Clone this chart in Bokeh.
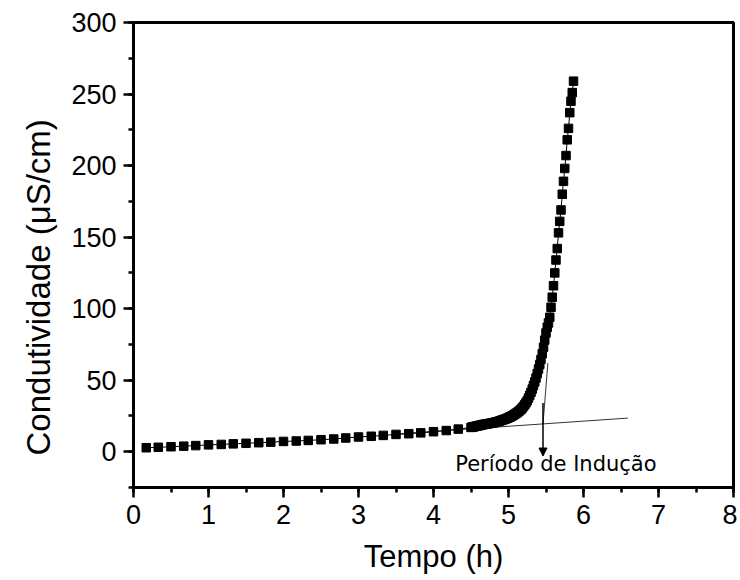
from bokeh.plotting import figure
from bokeh.models import Range1d, SingleIntervalTicker, Arrow, NormalHead, Title
from bokeh.embed import file_html
from bokeh.resources import INLINE
from bokeh.core.properties import value

# --- data ---
time_h = [0.17, 0.33, 0.50, 0.67, 0.83, 1.00, 1.17, 1.33, 1.50, 1.67, 1.83, 2.00,
          2.17, 2.33, 2.50, 2.67, 2.83, 3.00, 3.17, 3.33, 3.50, 3.67, 3.83, 4.00,
          4.17, 4.33,
          4.500, 4.517, 4.533, 4.550, 4.567, 4.583, 4.600, 4.617, 4.633, 4.650,
          4.667, 4.683, 4.700, 4.717, 4.733, 4.750, 4.767, 4.783, 4.800, 4.817,
          4.833, 4.850, 4.867, 4.883, 4.900, 4.917, 4.933, 4.950, 4.967, 4.983,
          5.000, 5.017, 5.033, 5.050, 5.067, 5.083, 5.100, 5.117, 5.133, 5.150,
          5.167, 5.183, 5.200, 5.217, 5.233, 5.250, 5.267, 5.283, 5.300, 5.317,
          5.333, 5.350, 5.367, 5.383, 5.400, 5.417, 5.433, 5.450, 5.467, 5.483,
          5.500, 5.517, 5.533,
          5.550, 5.567, 5.583, 5.600, 5.617, 5.633, 5.650, 5.667, 5.683, 5.700,
          5.717, 5.733, 5.750, 5.767, 5.783, 5.800, 5.817, 5.833, 5.850, 5.867]
conductivity = [2.8, 3.1, 3.5, 3.9, 4.3, 4.8, 5.1, 5.5, 5.9, 6.3, 6.7, 7.2,
                7.5, 7.9, 8.4, 8.9, 9.6, 10.3, 10.8, 11.4, 12.1, 12.6, 13.2, 14.0,
                14.8, 15.8,
                17.0, 17.2, 17.4, 17.6, 17.8, 18.0, 18.2, 18.4, 18.6, 18.8,
                19.0, 19.2, 19.3, 19.5, 19.6, 19.8, 19.9, 20.1, 20.3, 20.5,
                20.7, 20.9, 21.2, 21.5, 21.8, 22.1, 22.4, 22.7, 23.0, 23.4,
                23.8, 24.2, 24.6, 25.1, 25.6, 26.2, 26.8, 27.4, 28.0, 28.8,
                29.6, 30.6, 31.7, 32.9, 34.2, 35.7, 37.5, 39.4, 41.5, 43.8,
                46.3, 48.8, 51.5, 54.6, 57.8, 61.0, 64.5, 68.5, 73.0, 78.0,
                83.0, 87.0, 90.0,
                94.0, 101.0, 108.0, 116.0, 125.0, 134.0, 142.0, 153.0, 161.0, 169.0,
                180.0, 189.0, 198.0, 207.0, 218.0, 226.0, 237.0, 245.0, 251.0, 259.0]

baseline_x = [3.5, 6.59]
baseline_y = [12.4, 23.5]
steep_x = [5.46, 5.525]
steep_y = [19.4, 62.0]
arrow_x = 5.46
arrow_y = [34.0, -3.0]
note_text = "Período de Indução"
note_x = 4.29
note_y = -8.4

x_label = "Tempo (h)"
y_label = "Condutividade (μS/cm)"

FONT = "Liberation Sans"

p = figure(frame_width=600, frame_height=465,
           x_range=Range1d(0, 8), y_range=Range1d(-25, 300),
           output_backend="svg", toolbar_location=None,
           min_border_left=133, min_border_top=22, min_border_right=4,
           min_border_bottom=90)

p.background_fill_color = "white"
p.border_fill_color = "white"
p.outline_line_color = "black"
p.outline_line_width = 3
p.xgrid.visible = False
p.ygrid.visible = False

p.xaxis.ticker = SingleIntervalTicker(interval=1, num_minor_ticks=2)
p.yaxis.ticker = SingleIntervalTicker(interval=50, num_minor_ticks=2)

for ax in (p.xaxis[0], p.yaxis[0]):
    ax.axis_line_width = 3
    ax.axis_line_color = "black"
    ax.major_tick_line_width = 2.5
    ax.minor_tick_line_width = 2.5
    ax.major_tick_in = 0
    ax.minor_tick_in = 0
    ax.major_tick_out = 10
    ax.minor_tick_out = 5
    ax.major_label_text_font = FONT
    ax.major_label_text_font_size = "27px"
    ax.major_label_text_color = "black"
    ax.axis_label_text_font = FONT
    ax.axis_label_text_font_style = "normal"
    ax.axis_label_text_color = "black"

p.xaxis.axis_label = x_label
p.xaxis.axis_label_text_font_size = "31px"
p.xaxis.major_label_standoff = 7
p.xaxis.axis_label_standoff = 12
p.yaxis.major_label_standoff = 7

p.add_layout(Title(text=y_label, align="left", offset=32,
                   text_font=FONT, text_font_size="33px",
                   text_font_style="normal", text_color="black",
                   standoff=24), "left")

# tangent lines
p.line(baseline_x, baseline_y, line_color="#333333", line_width=1)
p.line(steep_x, steep_y, line_color="#333333", line_width=1)

# data
p.line(time_h, conductivity, line_color="black", line_width=1)
p.scatter(time_h, conductivity, marker="square", size=8.5,
          fill_color="black", line_color="black")

# arrow + note
p.add_layout(Arrow(end=NormalHead(size=8, fill_color="black", line_color="black"),
                   x_start=arrow_x, y_start=arrow_y[0],
                   x_end=arrow_x, y_end=arrow_y[1],
                   line_color="black", line_width=1.5))
p.text(x=[note_x], y=[note_y], text=[note_text],
       text_font=value("DejaVu Sans"), text_font_size="21px",
       text_align="left", text_baseline="middle", text_color="black")

open("out.html", "w").write(file_html(p, INLINE))
